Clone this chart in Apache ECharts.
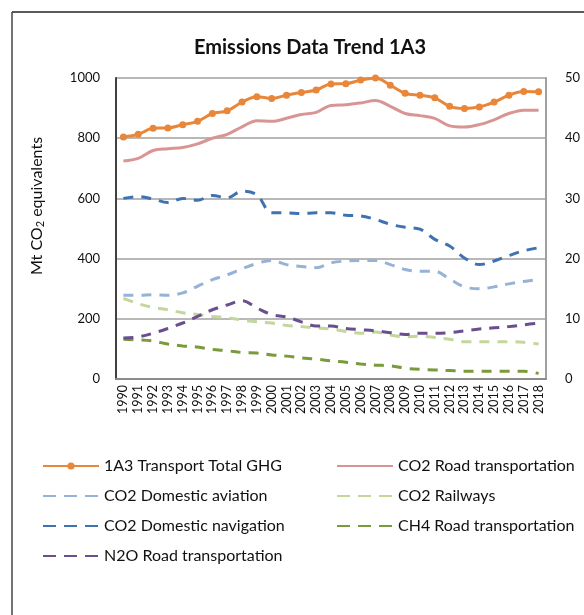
<!DOCTYPE html>
<html>
<head>
<meta charset="utf-8">
<script src="https://cdn.jsdelivr.net/npm/echarts@6/dist/echarts.min.js"></script>
<style>
  html, body { margin: 0; padding: 0; background: #fff; }
  #chart { width: 584px; height: 615px; }
</style>
</head>
<body>
<div id="chart"></div>
<script>
const years = ['1990', '1991', '1992', '1993', '1994', '1995', '1996', '1997', '1998', '1999',
  '2000', '2001', '2002', '2003', '2004', '2005', '2006', '2007', '2008', '2009',
  '2010', '2011', '2012', '2013', '2014', '2015', '2016', '2017', '2018']

// left axis, Mt CO2 eq
const totalGhg = [804, 813, 833, 834, 845, 856, 882, 891, 920, 938, 932, 943, 952, 960, 980,
  981, 993, 1000, 976, 949, 943, 934, 906, 899, 904, 920, 943, 955, 954]
const co2Road = [724, 733, 759, 765, 769, 781, 800, 813, 838, 858, 856, 866, 879, 886, 909,
  911, 917, 925, 906, 882, 875, 866, 841, 837, 845, 861, 882, 893, 893]

// right axis
const co2Aviation = [13.9, 13.9, 14.0, 13.9, 14.3, 15.4, 16.5, 17.3, 18.3, 19.2, 19.7, 19.0, 18.7, 18.5, 19.3,
  19.6, 19.7, 19.7, 19.0, 18.2, 17.9, 17.9, 16.6, 15.3, 15.0, 15.3, 15.8, 16.2, 16.5]
const co2Railways = [13.4, 12.5, 11.9, 11.5, 11.0, 10.7, 10.4, 10.2, 9.8, 9.5, 9.3, 8.9, 8.7, 8.5, 8.3,
  7.9, 7.6, 7.8, 7.3, 7.0, 7.1, 6.9, 6.6, 6.2, 6.2, 6.2, 6.2, 6.1, 5.8]
const co2Navigation = [30.0, 30.3, 29.9, 29.3, 30.0, 29.7, 30.5, 30.1, 31.2, 30.6, 27.6, 27.6, 27.5, 27.6, 27.6,
  27.2, 27.1, 26.5, 25.7, 25.2, 24.9, 23.2, 22.1, 20.1, 19.0, 19.6, 20.5, 21.3, 21.8]
const ch4Road = [6.6, 6.5, 6.3, 5.8, 5.5, 5.3, 4.9, 4.7, 4.4, 4.3, 4.0, 3.8, 3.5, 3.3, 3.0,
  2.8, 2.5, 2.3, 2.2, 1.8, 1.6, 1.5, 1.4, 1.3, 1.3, 1.3, 1.3, 1.3, 0.9]
const n2oRoad = [6.8, 7.0, 7.6, 8.4, 9.3, 10.4, 11.5, 12.3, 13.0, 11.8, 10.7, 10.3, 9.5, 8.8, 8.8,
  8.4, 8.2, 8.0, 7.7, 7.4, 7.6, 7.6, 7.7, 8.0, 8.3, 8.5, 8.7, 9.0, 9.3]

const font = 'Lato, "Open Sans", sans-serif'

const dashed = (name, color, data) => ({
  name,
  type: 'line',
  yAxisIndex: 1,
  smooth: 0.35,
  showSymbol: false,
  symbol: 'none',
  data,
  lineStyle: { color, width: 3, type: [10, 8] },
  itemStyle: { color },
})

// legend entries: no dot, 3 long dashes for the dashed ones
const noDot = { opacity: 0 }
const legDash = (name) => ({ name, itemStyle: noDot, lineStyle: { type: [13, 8] } })

const chart = echarts.init(document.getElementById('chart'))
chart.setOption({
  animation: false,
  textStyle: { fontFamily: font },
  title: {
    text: 'Emissions Data Trend 1A3',
    left: 305,
    top: 33,
    textAlign: 'center',
    textStyle: { fontFamily: font, fontSize: 20, fontWeight: 'bold', color: '#111' },
  },
  graphic: [
    { type: 'line', shape: { x1: 12, y1: 12, x2: 584, y2: 12 }, style: { stroke: '#222', lineWidth: 1.5 } },
    { type: 'line', shape: { x1: 12, y1: 12, x2: 12, y2: 615 }, style: { stroke: '#444', lineWidth: 1.5 } },
    {
      type: 'text',
      x: 37,
      y: 206,
      rotation: Math.PI / 2,
      style: {
        text: '{a|Mt CO}{s|2}{a| equivalents}',
        align: 'center',
        verticalAlign: 'middle',
        rich: {
          a: { fontFamily: font, fontSize: 16, fill: '#111' },
          s: { fontFamily: font, fontSize: 11, fill: '#111', padding: [6, 0, 0, 0] },
        },
      },
    },
  ],
  legend: [
    {
      orient: 'vertical',
      left: 37,
      top: 453,
      itemWidth: 56,
      itemHeight: 9,
      itemGap: 14,
      textStyle: { fontFamily: font, fontSize: 16, color: '#111' },
      data: [
        { name: '1A3 Transport Total GHG', itemStyle: { opacity: 1 } },
        legDash('CO2 Domestic aviation'),
        legDash('CO2 Domestic navigation'),
        legDash('N2O Road transportation'),
      ],
    },
    {
      orient: 'vertical',
      left: 331,
      top: 453,
      itemWidth: 56,
      itemHeight: 9,
      itemGap: 14,
      textStyle: { fontFamily: font, fontSize: 16, color: '#111' },
      data: [
        { name: 'CO2 Road transportation', itemStyle: noDot },
        legDash('CO2 Railways'),
        legDash('CH4 Road transportation'),
      ],
    },
  ],
  grid: { left: 116, right: 38, top: 78, bottom: 236, containLabel: false },
  xAxis: {
    type: 'category',
    data: years,
    boundaryGap: true,
    axisTick: { show: false },
    axisLine: { lineStyle: { color: '#8c8c8c', width: 2 } },
    axisLabel: { rotate: 90, margin: 6, fontSize: 12.5, color: '#111', interval: 0 },
  },
  yAxis: [
    {
      type: 'value',
      min: 0,
      max: 1000,
      interval: 200,
      axisLine: { show: true, lineStyle: { color: '#404040', width: 2 } },
      axisTick: { show: false },
      axisLabel: { margin: 16, fontSize: 13, color: '#111', formatter: (v) => String(v) },
      splitLine: { lineStyle: { color: '#a0a0a0', width: 1.5 } },
    },
    {
      type: 'value',
      min: 0,
      max: 50,
      interval: 10,
      position: 'right',
      axisLine: { show: true, lineStyle: { color: '#a0a0a0', width: 2 } },
      axisTick: { show: false },
      axisLabel: { margin: 19, fontSize: 13, color: '#111' },
      splitLine: { show: false },
    },
  ],
  series: [
    {
      name: '1A3 Transport Total GHG',
      type: 'line',
      smooth: 0.35,
      data: totalGhg,
      symbol: 'circle',
      symbolSize: 7,
      lineStyle: { color: '#e8863a', width: 3 },
      itemStyle: { color: '#e8863a' },
      z: 5,
    },
    {
      name: 'CO2 Road transportation',
      type: 'line',
      smooth: 0.35,
      data: co2Road,
      showSymbol: false,
      symbol: 'none',
      lineStyle: { color: '#d99594', width: 3 },
      itemStyle: { color: '#d99594' },
    },
    dashed('CO2 Domestic aviation', '#95b3d7', co2Aviation),
    dashed('CO2 Railways', '#c3d69b', co2Railways),
    dashed('CO2 Domestic navigation', '#3f72b0', co2Navigation),
    dashed('CH4 Road transportation', '#7a9a3c', ch4Road),
    dashed('N2O Road transportation', '#6a4f8e', n2oRoad),
  ],
})
</script>
</body>
</html>
